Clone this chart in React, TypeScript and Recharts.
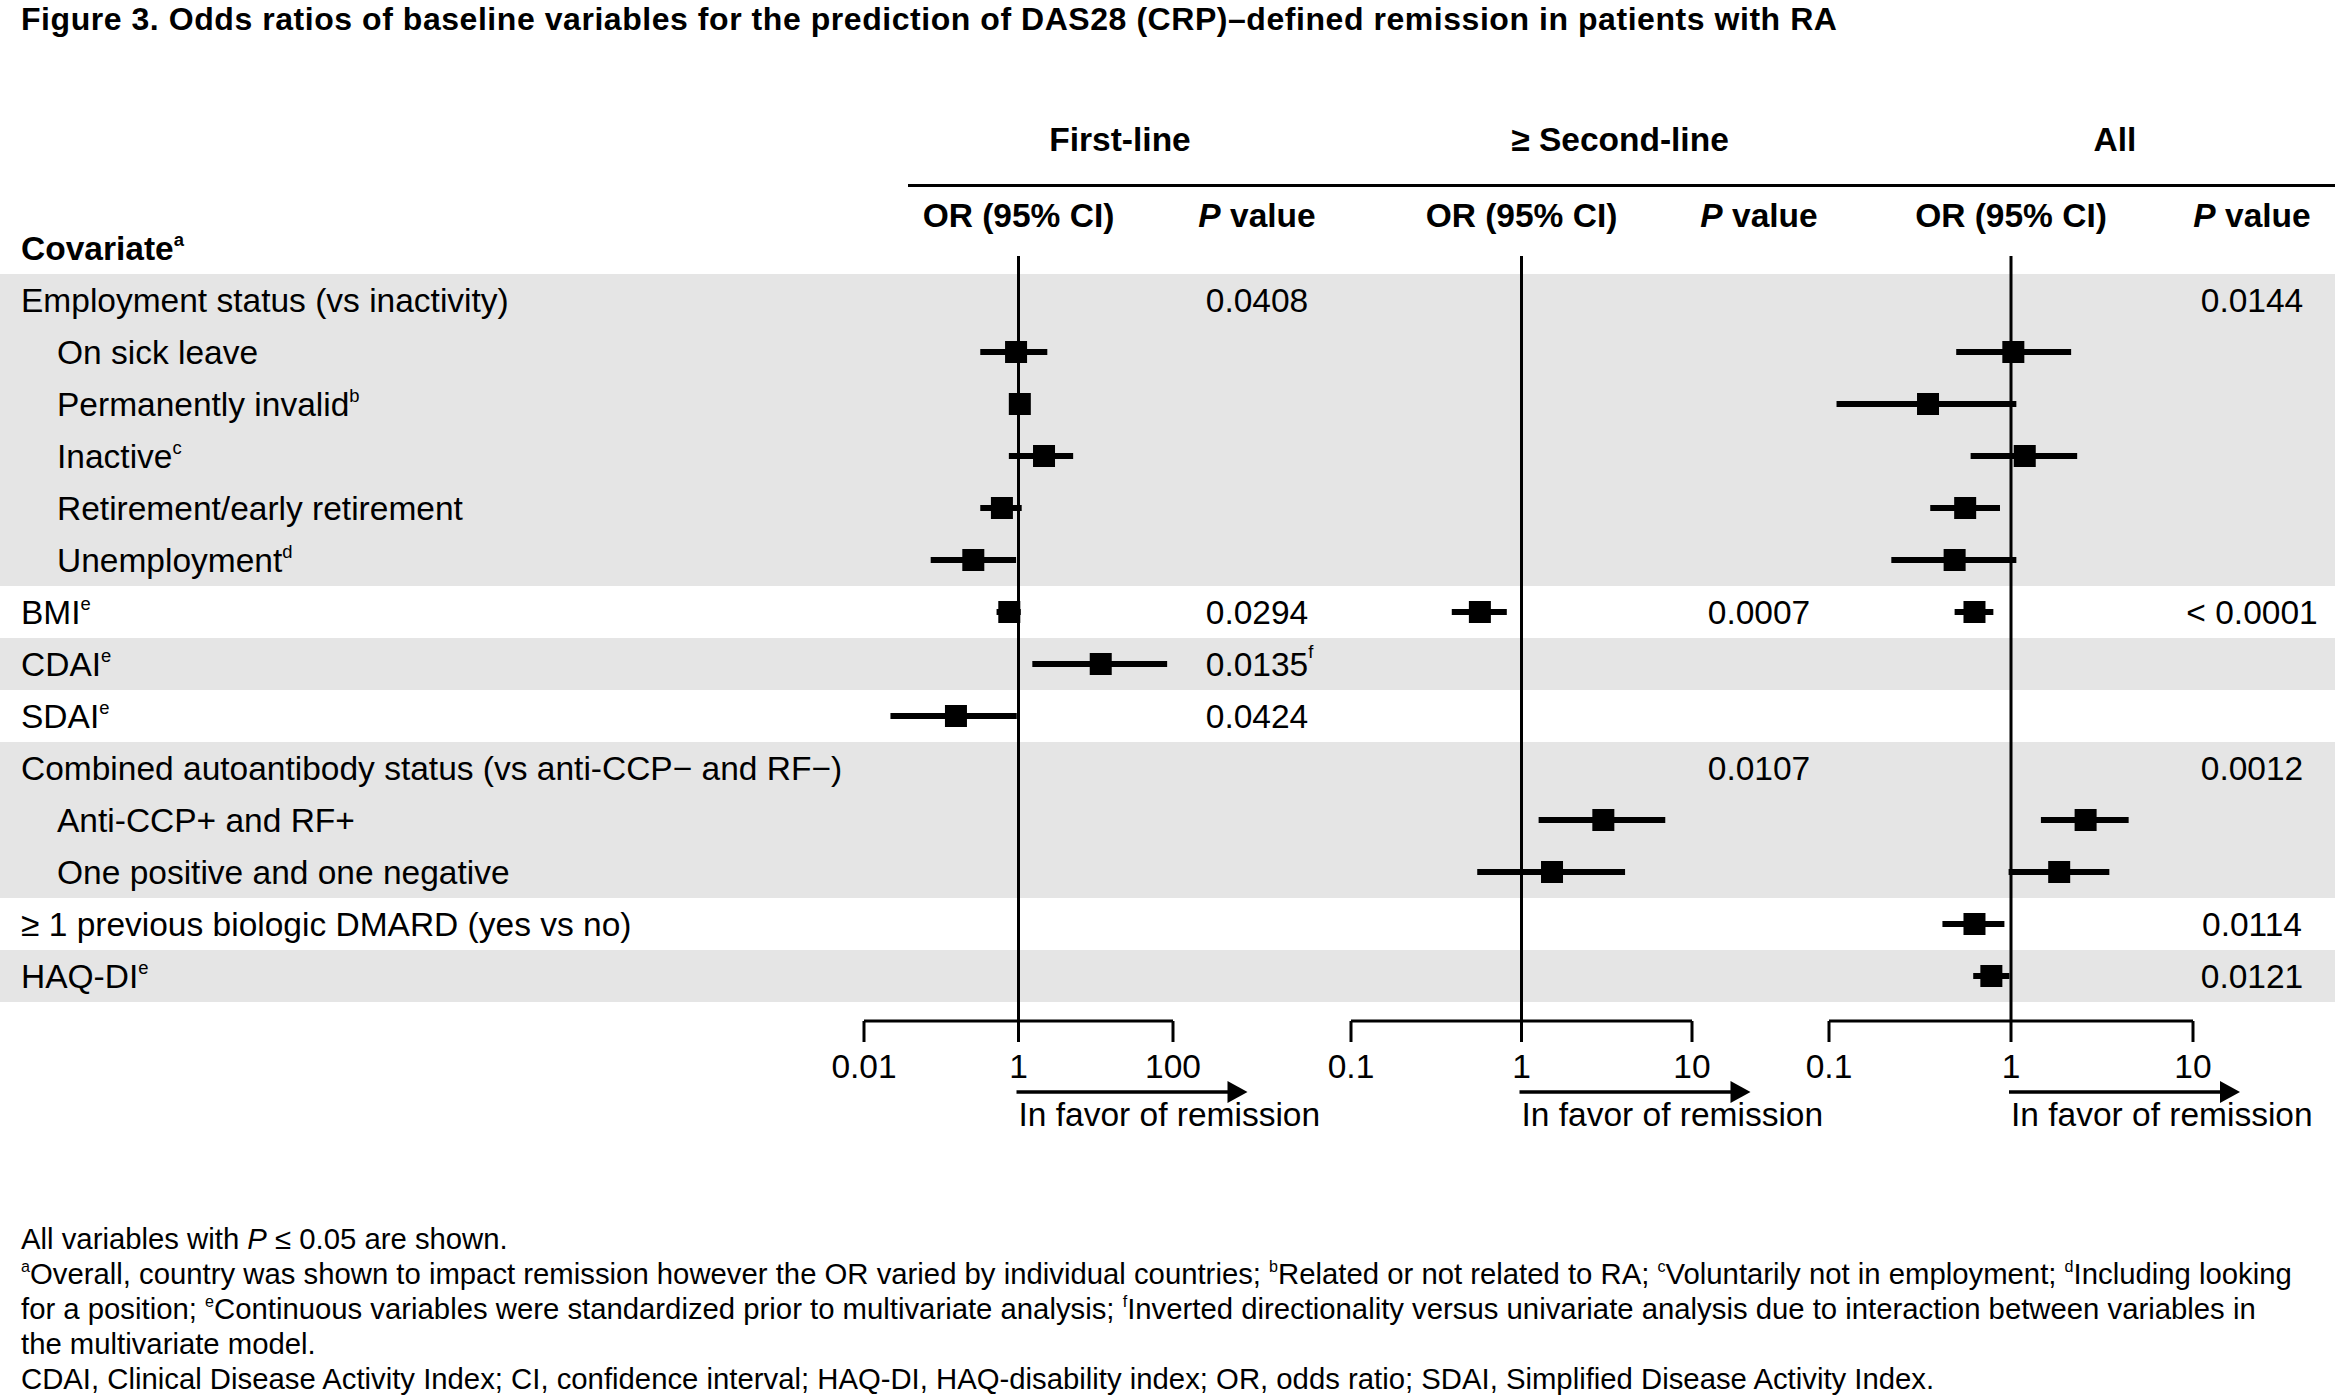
import React from 'react';
import { ScatterChart, Scatter, XAxis, YAxis, ErrorBar, ReferenceLine } from 'recharts';

const FONT = '"Liberation Sans", Arial, Helvetica, sans-serif';

// Rows of the table, top to bottom
const covariates = [
    'Employment status (vs inactivity)',
    'On sick leave',
    'Permanently invalid',
    'Inactive',
    'Retirement/early retirement',
    'Unemployment',
    'BMI',
    'CDAI',
    'SDAI',
    'Combined autoantibody status (vs anti-CCP\u2212 and RF\u2212)',
    'Anti-CCP+ and RF+',
    'One positive and one negative',
    '\u2265 1 previous biologic DMARD (yes vs no)',
    'HAQ-DI',
];
const covariateNotes = ['', '', 'b', 'c', '', 'd', 'e', 'e', 'e', '', '', '', '', 'e'];
const indented = [false, true, true, true, true, true, false, false, false, false, true, true, false, false];
const shaded = [true, true, true, true, true, true, false, true, false, true, true, true, false, true];

// First-line
const firstLineOR = [null, 0.93, 1.04, 2.14, 0.61, 0.26, 0.76, 11.6, 0.155, null, null, null, null, null];
const firstLineLow = [null, 0.32, 0.95, 0.75, 0.32, 0.073, 0.52, 1.51, 0.022, null, null, null, null, null];
const firstLineHigh = [null, 2.36, 1.12, 5.1, 1.1, 0.93, 1.07, 84, 0.95, null, null, null, null, null];
const firstLineP = ['0.0408', '', '', '', '', '', '0.0294', '0.0135', '0.0424', '', '', '', '', ''];
const firstLinePNotes = ['', '', '', '', '', '', '', 'f', '', '', '', '', '', ''];
const firstLineTicks = [0.01, 1, 100];

// >= Second-line
const secondLineOR = [null, null, null, null, null, null, 0.57, null, null, null, 3.02, 1.51, null, null];
const secondLineLow = [null, null, null, null, null, null, 0.39, null, null, null, 1.26, 0.55, null, null];
const secondLineHigh = [null, null, null, null, null, null, 0.82, null, null, null, 6.97, 4.05, null, null];
const secondLineP = ['', '', '', '', '', '', '0.0007', '', '', '0.0107', '', '', '', ''];
const secondLineTicks = [0.1, 1, 10];

// All
const allOR = [null, 1.03, 0.35, 1.19, 0.56, 0.49, 0.63, null, null, null, 2.57, 1.84, 0.63, 0.78];
const allLow = [null, 0.5, 0.11, 0.6, 0.36, 0.22, 0.49, null, null, null, 1.46, 0.97, 0.42, 0.62];
const allHigh = [null, 2.14, 1.07, 2.31, 0.87, 1.07, 0.8, null, null, null, 4.43, 3.47, 0.92, 0.98];
const allP = ['0.0144', '', '', '', '', '', '< 0.0001', '', '', '0.0012', '', '', '0.0114', '0.0121'];
const allTicks = [0.1, 1, 10];

// layout (px)
const ROW_TOP = 274;
const ROW_H = 52;
const PLOT_TOP = 256;
const AXIS_Y = 1021;
const AXIS_H = 80;
const SIDE = 50;
const BODY = 33.5;
const NOTE = 29.3;

const panels = [
    { title: 'First-line', titleX: 1120, axisLeft: 864, axisWidth: 309, domain: [0.01, 100], ticks: firstLineTicks, or: firstLineOR, low: firstLineLow, high: firstLineHigh, p: firstLineP, pNotes: firstLinePNotes, pX: 1257 },
    { title: '\u2265 Second-line', titleX: 1620, axisLeft: 1351, axisWidth: 341, domain: [0.1, 10], ticks: secondLineTicks, or: secondLineOR, low: secondLineLow, high: secondLineHigh, p: secondLineP, pNotes: [], pX: 1759 },
    { title: 'All', titleX: 2115, axisLeft: 1829, axisWidth: 364, domain: [0.1, 10], ticks: allTicks, or: allOR, low: allLow, high: allHigh, p: allP, pNotes: [], pX: 2252 },
];

const xOfOne = (p) => p.axisLeft + p.axisWidth * (0 - Math.log10(p.domain[0])) / (Math.log10(p.domain[1]) - Math.log10(p.domain[0]));
const rowBaseline = (i) => ROW_TOP + ROW_H * i + ROW_H / 2 + 12;

function Txt({ x, y, size = BODY, bold = false, align = 'left', spacing = 0, children }) {
    const transform = align === 'center' ? 'translateX(-50%)' : align === 'right' ? 'translateX(-100%)' : undefined;
    return (
        <div style={{ position: 'absolute', left: x, top: y - 0.8465 * size, fontSize: size, lineHeight: 1, fontWeight: bold ? 700 : 400, letterSpacing: spacing, whiteSpace: 'nowrap', transform, color: '#000' }}>
            {children}
        </div>
    );
}

function Sup({ children, floating = false }) {
    return (
        <span style={{ fontSize: '0.55em', position: floating ? 'absolute' : 'relative', top: floating ? '-0.15em' : '-0.75em', left: floating ? '100%' : undefined }}>{children}</span>
    );
}

const Square = (props) => {
    const { cx, cy } = props;
    return <rect x={cx - 11} y={cy - 11} width={22} height={22} fill="#000" />;
};

function ForestPanel({ panel }) {
    const data = panel.or
        .map((v, i) => (v == null ? null : { row: i + 0.5, or: v, ci: [v - panel.low[i], panel.high[i] - v] }))
        .filter(Boolean);
    const plotH = AXIS_Y - PLOT_TOP;
    return (
        <div style={{ position: 'absolute', left: panel.axisLeft - SIDE, top: PLOT_TOP }}>
            <ScatterChart width={panel.axisWidth + 2 * SIDE} height={plotH + AXIS_H} margin={{ top: 0, right: SIDE, bottom: 0, left: SIDE }}>
                <XAxis
                    type="number"
                    dataKey="or"
                    scale="log"
                    domain={panel.domain}
                    ticks={panel.ticks}
                    allowDataOverflow
                    interval={0}
                    height={AXIS_H}
                    tickSize={21}
                    tickMargin={12}
                    axisLine={{ stroke: '#000', strokeWidth: 3 }}
                    tickLine={{ stroke: '#000', strokeWidth: 3 }}
                    tick={{ fill: '#000', fontSize: BODY, fontFamily: FONT }}
                />
                <YAxis
                    type="number"
                    dataKey="row"
                    hide
                    reversed
                    allowDataOverflow
                    domain={[0, covariates.length]}
                    padding={{ top: ROW_TOP - PLOT_TOP, bottom: AXIS_Y - (ROW_TOP + ROW_H * covariates.length) }}
                />
                <ReferenceLine x={1} stroke="#000" strokeWidth={3} />
                <Scatter data={data} fill="#000" shape={Square} isAnimationActive={false}>
                    <ErrorBar dataKey="ci" direction="x" width={0} stroke="#000" strokeWidth={6} isAnimationActive={false} />
                </Scatter>
            </ScatterChart>
        </div>
    );
}

export default function App() {
    return (
        <div style={{ position: 'relative', width: 2335, height: 1397, background: '#fff', fontFamily: FONT, overflow: 'hidden' }}>
            <style>{'body{margin:0}'}</style>

            {/* row shading */}
            {covariates.map((_, i) => (
                <div key={i} style={{ position: 'absolute', left: 0, width: 2335, top: ROW_TOP + ROW_H * i, height: ROW_H, background: shaded[i] ? '#e5e5e5' : '#fff' }} />
            ))}

            {panels.map((p) => <ForestPanel key={p.title} panel={p} />)}

            <Txt x={21} y={30} size={32} spacing={0.55} bold>
                Figure 3. Odds ratios of baseline variables for the prediction of DAS28 (CRP)–defined remission in patients with RA
            </Txt>

            {panels.map((p) => (
                <React.Fragment key={p.title}>
                    <Txt x={p.titleX} y={151} bold align="center">{p.title}</Txt>
                    <Txt x={xOfOne(p)} y={227} bold align="center">OR (95% CI)</Txt>
                    <Txt x={p.pX} y={227} bold align="center"><i>P</i> value</Txt>
                    {p.p.map((v, i) => v ? (
                        <Txt key={i} x={p.pX} y={rowBaseline(i)} align="center">
                            <span style={{ position: 'relative' }}>{v}{p.pNotes[i] ? <Sup floating>{p.pNotes[i]}</Sup> : null}</span>
                        </Txt>
                    ) : null)}
                    <Txt x={xOfOne(p)} y={1126}>In favor of remission</Txt>
                </React.Fragment>
            ))}

            <div style={{ position: 'absolute', left: 908, right: 0, top: 183.5, height: 3.5, background: '#000' }} />

            <Txt x={21} y={260} bold>Covariate<Sup>a</Sup></Txt>
            {covariates.map((c, i) => (
                <Txt key={c} x={indented[i] ? 57 : 21} y={rowBaseline(i)}>
                    {c}{covariateNotes[i] ? <Sup>{covariateNotes[i]}</Sup> : null}
                </Txt>
            ))}

            {/* direction arrows */}
            <svg width={2335} height={1397} style={{ position: 'absolute', left: 0, top: 0, pointerEvents: 'none' }}>
                {panels.map((p) => {
                    const x0 = xOfOne(p);
                    return (
                        <g key={p.title}>
                            <line x1={x0 - 2} x2={x0 + 212} y1={1092} y2={1092} stroke="#000" strokeWidth={3.3} />
                            <polygon points={`${x0 + 209},${1081} ${x0 + 229},${1092} ${x0 + 209},${1103}`} fill="#000" />
                        </g>
                    );
                })}
            </svg>

            <Txt x={21} y={1249} size={NOTE}>All variables with <i>P</i> ≤ 0.05 are shown.</Txt>
            <Txt x={21} y={1284} size={NOTE}>
                <Sup>a</Sup>Overall, country was shown to impact remission however the OR varied by individual countries; <Sup>b</Sup>Related or not related to RA; <Sup>c</Sup>Voluntarily not in employment; <Sup>d</Sup>Including looking
            </Txt>
            <Txt x={21} y={1319} size={NOTE}>
                for a position; <Sup>e</Sup>Continuous variables were standardized prior to multivariate analysis; <Sup>f</Sup>Inverted directionality versus univariate analysis due to interaction between variables in
            </Txt>
            <Txt x={21} y={1354} size={NOTE}>the multivariate model.</Txt>
            <Txt x={21} y={1389} size={NOTE}>
                CDAI, Clinical Disease Activity Index; CI, confidence interval; HAQ-DI, HAQ-disability index; OR, odds ratio; SDAI, Simplified Disease Activity Index.
            </Txt>
        </div>
    );
}
